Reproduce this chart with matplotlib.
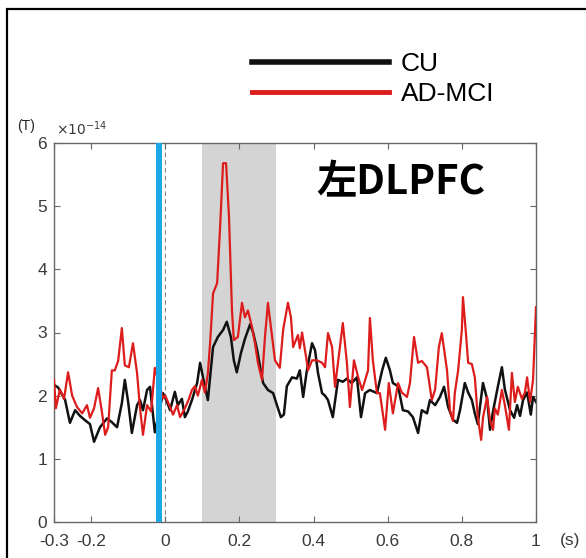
import matplotlib.pyplot as plt
from matplotlib.lines import Line2D
from matplotlib.patches import Rectangle

# time (s) and amplitude (x1e-14 T)
cu_t = [-0.300, -0.289, -0.270, -0.257, -0.243, -0.230, -0.216, -0.203, -0.192, -0.176,
        -0.157, -0.144, -0.130, -0.117, -0.109, -0.100, -0.090, -0.076, -0.068, -0.060,
        -0.049, -0.041, -0.028, -0.006, 0.005, 0.013, 0.026, 0.034, 0.045, 0.053,
        0.061, 0.072, 0.086, 0.094, 0.105, 0.115, 0.129, 0.142, 0.156, 0.166,
        0.177, 0.185, 0.193, 0.204, 0.215, 0.229, 0.237, 0.248, 0.256, 0.264,
        0.277, 0.291, 0.304, 0.312, 0.320, 0.328, 0.342, 0.355, 0.363, 0.372,
        0.382, 0.396, 0.404, 0.412, 0.423, 0.431, 0.439, 0.452, 0.466, 0.479,
        0.490, 0.503, 0.517, 0.528, 0.539, 0.552, 0.571, 0.585, 0.595, 0.606,
        0.614, 0.628, 0.641, 0.655, 0.668, 0.682, 0.692, 0.706, 0.714, 0.728,
        0.741, 0.752, 0.763, 0.776, 0.787, 0.795, 0.808, 0.817, 0.827, 0.835,
        0.843, 0.857, 0.868, 0.876, 0.884, 0.897, 0.908, 0.916, 0.930, 0.941,
        0.949, 0.957, 0.965, 0.976, 0.986, 0.992, 1.000]
cu_v = [2.17, 2.13, 1.93, 1.57, 1.77, 1.68, 1.61, 1.55, 1.27, 1.50,
        1.64, 1.58, 1.50, 1.88, 2.25, 1.90, 1.41, 1.85, 1.93, 1.77,
        2.09, 2.14, 1.42, 2.04, 1.90, 1.77, 2.06, 1.85, 1.95, 1.66,
        1.75, 1.93, 2.20, 2.52, 2.20, 1.93, 2.77, 2.93, 3.04, 3.17,
        2.93, 2.56, 2.37, 2.67, 2.90, 3.13, 3.00, 2.72, 2.45, 2.20,
        2.09, 2.04, 1.80, 1.66, 1.70, 2.15, 2.29, 2.27, 2.40, 1.98,
        2.40, 2.83, 2.72, 2.36, 2.04, 2.00, 1.93, 1.66, 2.25, 2.22,
        2.27, 2.20, 2.29, 1.66, 2.04, 2.09, 2.04, 2.40, 2.60, 2.40,
        2.20, 2.15, 1.77, 1.75, 1.66, 1.41, 1.77, 1.72, 1.93, 1.85,
        1.98, 2.14, 1.82, 1.62, 1.57, 1.77, 2.20, 2.05, 1.93, 1.72,
        1.55, 2.20, 1.95, 1.46, 1.75, 2.14, 2.45, 2.10, 1.77, 1.65,
        1.85, 1.68, 1.93, 2.05, 1.70, 1.98, 1.90]

mci_t = [-0.300, -0.295, -0.284, -0.273, -0.262, -0.251, -0.238, -0.224, -0.211, -0.203,
         -0.192, -0.181, -0.171, -0.162, -0.154, -0.144, -0.136, -0.127, -0.117, -0.109,
         -0.098, -0.087, -0.076, -0.068, -0.060, -0.049, -0.038, -0.028, -0.006, 0.000,
         0.013, 0.021, 0.032, 0.040, 0.053, 0.064, 0.072, 0.080, 0.088, 0.099,
         0.107, 0.115, 0.121, 0.129, 0.140, 0.148, 0.156, 0.164, 0.172, 0.180,
         0.185, 0.196, 0.207, 0.215, 0.223, 0.234, 0.242, 0.250, 0.261, 0.269,
         0.277, 0.285, 0.296, 0.309, 0.318, 0.331, 0.339, 0.345, 0.358, 0.363,
         0.369, 0.380, 0.385, 0.396, 0.409, 0.423, 0.431, 0.439, 0.450, 0.458,
         0.469, 0.479, 0.490, 0.498, 0.509, 0.520, 0.531, 0.547, 0.552, 0.560,
         0.571, 0.579, 0.593, 0.603, 0.614, 0.628, 0.638, 0.652, 0.660, 0.671,
         0.682, 0.692, 0.706, 0.719, 0.728, 0.738, 0.746, 0.760, 0.768, 0.776,
         0.781, 0.790, 0.800, 0.803, 0.811, 0.817, 0.827, 0.835, 0.843, 0.852,
         0.857, 0.868, 0.876, 0.884, 0.889, 0.897, 0.908, 0.916, 0.927, 0.935,
         0.943, 0.951, 0.962, 0.970, 0.976, 0.984, 0.992, 1.000]
mci_v = [2.25, 1.80, 2.10, 1.95, 2.37, 2.00, 1.82, 1.72, 1.85, 1.65,
         1.80, 2.12, 1.75, 1.38, 1.50, 2.40, 2.40, 2.55, 3.07, 2.48,
         2.45, 2.83, 2.36, 1.80, 1.38, 1.85, 1.75, 2.44, 1.96, 2.00,
         1.82, 1.70, 1.85, 1.66, 1.80, 1.95, 2.09, 2.15, 2.00, 2.25,
         2.05, 2.35, 2.83, 3.62, 3.78, 4.67, 5.68, 5.68, 4.83, 3.35,
         2.88, 2.93, 3.47, 3.24, 3.35, 3.09, 2.83, 2.52, 2.25, 2.93,
         3.47, 3.09, 2.56, 2.44, 3.04, 3.47, 3.24, 2.77, 2.96, 2.75,
         3.00, 2.61, 2.40, 2.56, 2.56, 2.52, 2.45, 2.99, 2.77, 2.14,
         2.67, 3.15, 2.52, 1.82, 2.56, 2.30, 2.09, 2.40, 3.23, 2.56,
         2.04, 2.04, 1.46, 2.20, 1.72, 2.20, 2.05, 1.98, 2.20, 2.93,
         2.52, 2.55, 2.45, 1.93, 2.10, 2.77, 2.99, 2.40, 1.77, 1.60,
         2.04, 2.40, 3.04, 3.56, 2.99, 2.52, 2.50, 2.29, 1.66, 1.30,
         1.65, 1.98, 1.61, 1.46, 1.80, 1.70, 2.09, 1.85, 1.46, 2.36,
         1.90, 2.14, 1.95, 2.05, 2.29, 1.90, 2.25, 3.40]

xticks = [-0.3, -0.2, 0, 0.2, 0.4, 0.6, 0.8, 1]
xticklabels = ['-0.3', '-0.2', '0', '0.2', '0.4', '0.6', '0.8', '1']
yticks = [0, 1, 2, 3, 4, 5, 6]
stim_onset = -0.017
window = (0.1, 0.3)

plt.rcParams['font.family'] = ['Liberation Sans', 'DejaVu Sans']

fig = plt.figure(figsize=(5.86, 5.58), dpi=100)
ax = fig.add_axes([54 / 586, 36 / 558, 482 / 586, 379 / 558])

ax.axvspan(window[0], window[1], color='#d4d4d4', lw=0, zorder=0)
ax.axvline(0, color='#888888', lw=0.8, ls=(0, (4, 3)), zorder=1)
ax.plot(cu_t, cu_v, color='#111111', lw=1.8, zorder=2)
ax.plot(mci_t, mci_v, color='#dd1c1c', lw=1.6, zorder=3)
ax.axvline(stim_onset, color='#1ba8e6', lw=4.3, zorder=4)

ax.set_xlim(-0.3, 1)
ax.set_ylim(0, 6)
ax.set_xticks(xticks)
ax.set_xticklabels(xticklabels)
ax.set_yticks(yticks)
ax.tick_params(direction='in', top=True, right=True, length=4, width=0.8,
               color='#666666', labelcolor='#3a3a3a', labelsize=12.5)
ax.tick_params(axis='x', pad=9)
ax.tick_params(axis='y', pad=5)
for s in ax.spines.values():
    s.set_color('#666666')
    s.set_linewidth(1.0)

ax.text(0.545, 0.895, '左DLPFC', transform=ax.transAxes, fontsize=29, fontweight='bold',
        family=['Noto Sans CJK JP', 'DejaVu Sans'], va='center', ha='left')

fig.text(56 / 586, 1 - 129 / 558, r'$\times10^{-14}$', fontsize=10, color='#3a3a3a', va='center')
fig.text(17 / 586, 1 - 126 / 558, '(T)', fontsize=10, color='#222222', va='center')
fig.text(560 / 586, 1 - 541 / 558, '(s)', fontsize=12.5, color='#3a3a3a', va='center')

handles = [Line2D([], [], color='#111111', lw=4), Line2D([], [], color='#dd1c1c', lw=3.5)]
fig.legend(handles, ['CU', 'AD-MCI'], loc='upper left', bbox_to_anchor=(228 / 586, 1 - 28 / 558),
           frameon=False, handlelength=5.2, handletextpad=0.45, labelspacing=0.25,
           prop={'family': ['Liberation Sans Narrow', 'Liberation Sans'], 'size': 19})

fig.add_artist(Rectangle((7 / 586, -0.1), 1.0, 1.1 - 9 / 558, transform=fig.transFigure,
                         fill=False, edgecolor='black', lw=1.6))

fig.savefig('out.png', dpi=100)
plt.close()
